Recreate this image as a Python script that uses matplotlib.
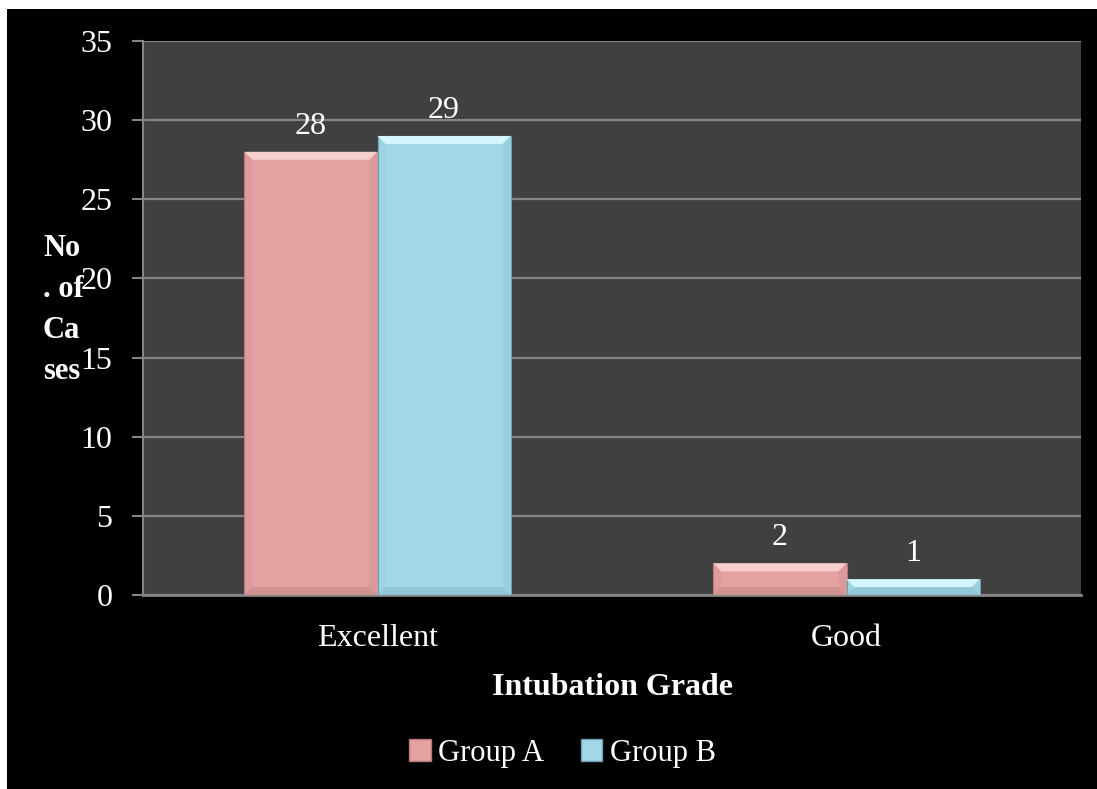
import matplotlib
matplotlib.use("Agg")
import matplotlib.pyplot as plt
from matplotlib.patches import Rectangle, Polygon
import numpy as np

# data
grades = ["Excellent", "Good"]
group_a = [28, 2]
group_b = [29, 1]
series_names = ["Group A", "Group B"]
y_ticks = [0, 5, 10, 15, 20, 25, 30, 35]

plt.rcParams['font.family'] = ['Liberation Serif', 'DejaVu Serif']
FS = 23

fig = plt.figure(figsize=(10.97, 7.89), dpi=100, facecolor='white')
# black chart area (white margin at top/left like the original)
fig.patches.append(Rectangle((7 / 1097, 0), 1, 1 - 9 / 789, transform=fig.transFigure,
                             facecolor='black', edgecolor='none', zorder=-10))

ax = fig.add_axes([143 / 1097, 1 - 595 / 789, (1081 - 143) / 1097, (595 - 41) / 789])
ax.set_facecolor('#404040')

x = np.arange(len(grades))
width = 0.284
colors = ['#E5A0A0', '#A0D8E8']
light = ['#F8CFCF', '#D4F6FC']
dark = ['#C08585', '#84B8C8']

bars_a = ax.bar(x - width / 2, group_a, width, color=colors[0], edgecolor='#B07878', linewidth=0.8, zorder=3)
bars_b = ax.bar(x + width / 2, group_b, width, color=colors[1], edgecolor='#6F9FAE', linewidth=0.8, zorder=3)

ax.set_xlim(-0.5, 1.5)
ax.set_ylim(0, 35)

# bevel look: pixel size converted to data units
bw = 8 * 2 / (1081 - 143)
bh = 8 * 35 / (595 - 41)
for bars, i in ((bars_a, 0), (bars_b, 1)):
    for b in bars:
        x0, y0 = b.get_x(), b.get_y()
        x1, y1 = x0 + b.get_width(), y0 + b.get_height()
        h = min(bh, b.get_height() / 2)
        ax.add_patch(Polygon([(x0, y1), (x1, y1), (x1 - bw, y1 - h), (x0 + bw, y1 - h)],
                             closed=True, facecolor=light[i], edgecolor='none', zorder=4))
        ax.add_patch(Polygon([(x0, y0), (x1, y0), (x1 - bw, y0 + h), (x0 + bw, y0 + h)],
                             closed=True, facecolor=dark[i], edgecolor='none', alpha=0.5, zorder=4))
        ax.add_patch(Polygon([(x1, y0), (x1, y1), (x1 - bw, y1 - h), (x1 - bw, y0 + h)],
                             closed=True, facecolor=dark[i], edgecolor='none', alpha=0.25, zorder=4))
        ax.add_patch(Polygon([(x0, y0), (x0, y1), (x0 + bw, y1 - h), (x0 + bw, y0 + h)],
                             closed=True, facecolor=dark[i], edgecolor='none', alpha=0.12, zorder=4))
    ax.bar_label(bars, padding=8, color='white', fontsize=FS)

ax.set_yticks(y_ticks)
ax.yaxis.grid(True, color='#858585', linewidth=1.6, zorder=1)
ax.set_axisbelow(True)
ax.tick_params(axis='y', colors='#858585', labelcolor='white', labelsize=FS, length=8, width=1.5, pad=14)
ax.tick_params(axis='x', length=0, labelcolor='white', labelsize=FS, pad=21)
ax.set_xticks(x)
ax.set_xticklabels(grades)

for s in ['top', 'right']:
    ax.spines[s].set_visible(False)
ax.spines['left'].set_color('#858585')
ax.spines['left'].set_linewidth(1.5)
ax.spines['bottom'].set_color('#858585')
ax.spines['bottom'].set_linewidth(2)

ax.set_xlabel("Intubation Grade", color='white', fontsize=FS, fontweight='bold', labelpad=14)
# wrapped axis title, sits just left of the tick labels like the original
fig.text(43 / 1097, 1 - 310 / 789, "No\n. of\nCa\nses", color='white', fontsize=FS - 1,
         fontweight='bold', ha='left', va='center', linespacing=1.55)

handles = [Rectangle((0, 0), 1, 1, facecolor=colors[0], edgecolor='#B07878'),
           Rectangle((0, 0), 1, 1, facecolor=colors[1], edgecolor='#6F9FAE')]
fig.legend(handles, series_names, loc='center', bbox_to_anchor=(0.513, 1 - 753 / 789), ncol=2,
           frameon=False, fontsize=FS - 1, labelcolor='white', handlelength=0.7, handleheight=0.7,
           handletextpad=0.25, columnspacing=1.2)

fig.savefig("out.png", dpi=100, facecolor='white')
